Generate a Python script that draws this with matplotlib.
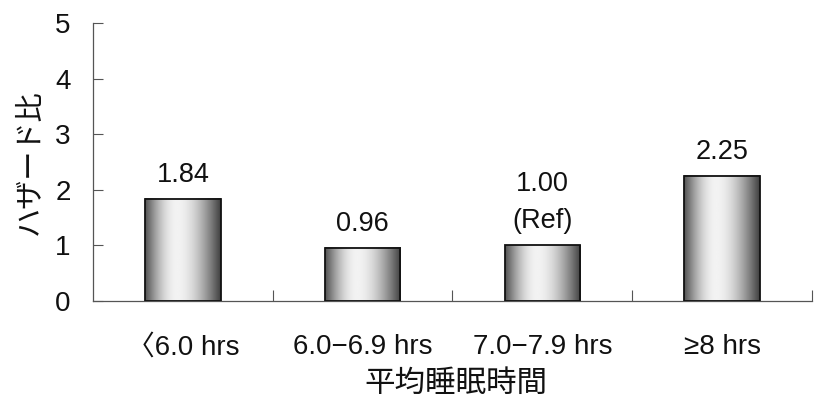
import matplotlib
matplotlib.use('Agg')
import matplotlib.pyplot as plt
import numpy as np

plt.rcParams['font.family'] = ['Liberation Sans', 'Noto Sans CJK JP']

# data
categories = ['<6.0 hrs', '6.0-6.9 hrs', '7.0-7.9 hrs', '≥8 hrs']
tick_labels = ['\u30086.0 hrs', '6.0\u22126.9 hrs', '7.0\u22127.9 hrs', '≥8 hrs']
hazard = [1.84, 0.96, 1.00, 2.25]
bar_labels = ['1.84', '0.96', '1.00\n(Ref)', '2.25']

fig = plt.figure(figsize=(8.14, 4.03), dpi=100)
ax = fig.add_axes([93 / 814, 1 - 301 / 403, (812 - 93) / 814, (301 - 23) / 403])

x = np.arange(len(categories))
width = 0.42

# horizontal shading for the bars: dark edges, light centre-left
u = np.linspace(0, 1, 200)
shade = np.where(u < 0.42,
                 0.32 + 0.63 * np.sin(np.pi / 2 * u / 0.42),
                 0.25 + 0.70 * np.cos(np.pi / 2 * (u - 0.42) / 0.58))
grad = shade[np.newaxis, :]

bars = ax.bar(x, hazard, width, color='none', edgecolor='#111111', linewidth=1.3, zorder=3)
for b in bars:
    x0, y0 = b.get_x(), b.get_y()
    ax.imshow(grad, cmap='gray', vmin=0, vmax=1, aspect='auto',
              extent=[x0, x0 + b.get_width(), y0, y0 + b.get_height()],
              zorder=2, interpolation='bilinear')

for xi, h, lab in zip(x, hazard, bar_labels):
    ax.text(xi, h + 0.2, lab, ha='center', va='bottom', fontsize=19.5,
            linespacing=1.55, color='#111111')

ax.set_xlim(-0.5, len(categories) - 0.5)
ax.set_ylim(0, 5)
ax.set_yticks(range(6))
ax.tick_params(axis='y', direction='in', length=7, width=0.8, colors='#555555',
               labelcolor='#111111', labelsize=20, pad=16)

# category ticks between groups, pointing inward
ax.set_xticks(np.arange(len(categories)) + 0.5, minor=True)
ax.set_xticks(x)
ax.set_xticklabels(tick_labels, fontsize=20, color='#111111')
ax.tick_params(axis='x', which='major', length=0, pad=24)
ax.tick_params(axis='x', which='minor', direction='in', length=8, width=0.8, colors='#555555')

for s in ['top', 'right']:
    ax.spines[s].set_visible(False)
for s in ['left', 'bottom']:
    ax.spines[s].set_color('#555555')
    ax.spines[s].set_linewidth(0.9)

fig.text(30 / 814, 1 - 162 / 403, 'ハザード比', rotation=90, ha='center', va='center',
         fontsize=21, family=['Noto Sans CJK JP'], color='#111111')
fig.text(456 / 814, 1 - 383 / 403, '平均睡眠時間', ha='center', va='center',
         fontsize=22, family=['Noto Sans CJK JP'], color='#111111')

fig.savefig('out.png', dpi=100)
